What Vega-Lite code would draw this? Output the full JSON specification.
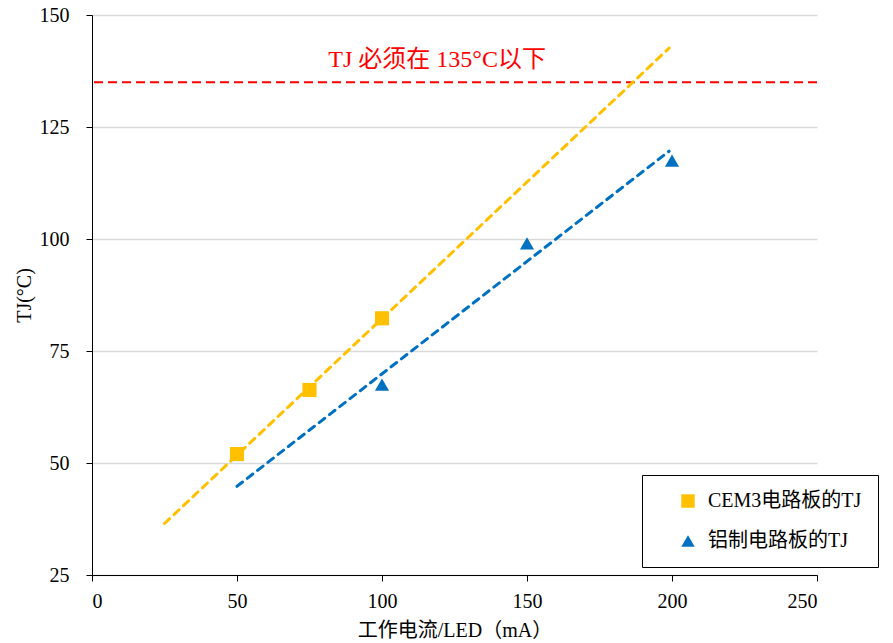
{
  "$schema": "https://vega.github.io/schema/vega-lite/v6.json",
  "autosize": {"type": "none"},
  "padding": {"left": 92, "top": 15, "right": 76, "bottom": 68},
  "width": 725,
  "height": 560,
  "background": "white",
  "config": {
    "view": {"stroke": null},
    "font": "Liberation Serif, Noto Sans CJK SC",
    "axis": {
      "labelFont": "Liberation Serif",
      "titleFont": "Liberation Serif, Noto Sans CJK SC",
      "labelFontSize": 20,
      "titleFontSize": 20,
      "titleFontWeight": "normal",
      "labelColor": "#000000",
      "titleColor": "#000000",
      "domainColor": "#000000",
      "tickColor": "#000000",
      "tickSize": 6,
      "gridColor": "#D9D9D9",
      "gridWidth": 1.5
    },
    "legend": {
      "labelFont": "Liberation Serif, Noto Sans CJK SC",
      "labelFontSize": 20,
      "labelColor": "#000000"
    }
  },
  "datasets": {
    "points": [
      {"series": "CEM3电路板的TJ", "current": 50, "tj": 52.0},
      {"series": "CEM3电路板的TJ", "current": 75, "tj": 66.3},
      {"series": "CEM3电路板的TJ", "current": 100, "tj": 82.3},
      {"series": "铝制电路板的TJ", "current": 100, "tj": 67.5},
      {"series": "铝制电路板的TJ", "current": 150, "tj": 99.0},
      {"series": "铝制电路板的TJ", "current": 200, "tj": 117.5}
    ],
    "trends": [
      {"series": "CEM3", "x1": 25, "y1": 36.5, "x2": 199, "y2": 142.6},
      {"series": "Al", "x1": 50, "y1": 44.8, "x2": 199, "y2": 119.6}
    ],
    "limit": [
      {"limit": 135, "label": "TJ 必须在 135°C以下", "lx": 119, "ly": 140}
    ]
  },
  "layer": [
    {
      "data": {"name": "limit"},
      "mark": {"type": "rule", "color": "#FF0000", "strokeWidth": 2, "strokeDash": [9, 5]},
      "encoding": {"y": {"field": "limit", "type": "quantitative", "scale": {"domain": [25, 150], "nice": false, "zero": false}}}
    },
    {
      "data": {"name": "trends"},
      "transform": [{"filter": "datum.series == 'CEM3'"}],
      "mark": {"type": "rule", "color": "#FFC000", "strokeWidth": 3, "strokeDash": [7, 6], "strokeCap": "round"},
      "encoding": {
        "x": {"field": "x1", "type": "quantitative", "scale": {"domain": [0, 250], "nice": false}},
        "y": {"field": "y1", "type": "quantitative", "scale": {"domain": [25, 150], "nice": false, "zero": false}},
        "x2": {"field": "x2"},
        "y2": {"field": "y2"}
      }
    },
    {
      "data": {"name": "trends"},
      "transform": [{"filter": "datum.series == 'Al'"}],
      "mark": {"type": "rule", "color": "#0070C0", "strokeWidth": 3, "strokeDash": [7, 6], "strokeCap": "round"},
      "encoding": {
        "x": {"field": "x1", "type": "quantitative", "scale": {"domain": [0, 250], "nice": false}},
        "y": {"field": "y1", "type": "quantitative", "scale": {"domain": [25, 150], "nice": false, "zero": false}},
        "x2": {"field": "x2"},
        "y2": {"field": "y2"}
      }
    },
    {
      "data": {"name": "points"},
      "mark": {"type": "point", "filled": true, "opacity": 1, "size": 200},
      "encoding": {
        "x": {
          "field": "current", "type": "quantitative",
          "scale": {"domain": [0, 250], "nice": false},
          "axis": {"values": [0, 50, 100, 150, 200, 250], "grid": false, "title": "工作电流/LED（mA）", "labelPadding": 10, "titlePadding": 9}
        },
        "y": {
          "field": "tj", "type": "quantitative",
          "scale": {"domain": [25, 150], "nice": false, "zero": false},
          "axis": {"values": [25, 50, 75, 100, 125, 150], "grid": true, "title": "TJ(°C)", "labelPadding": 17, "titlePadding": 5}
        },
        "color": {
          "field": "series", "type": "nominal",
          "scale": {"domain": ["CEM3电路板的TJ", "铝制电路板的TJ"], "range": ["#FFC000", "#0070C0"]},
          "legend": {
            "title": null,
            "orient": "none",
            "legendX": 550,
            "legendY": 460,
            "strokeColor": "#000000",
            "fillColor": "white",
            "padding": 16,
            "rowPadding": 20,
            "symbolSize": 180,
            "symbolOffset": 20,
            "labelOffset": 10,
            "offset": 0,
            "encode": {"legend": {"update": {"strokeWidth": {"value": 1.5}}}}
          }
        },
        "shape": {
          "field": "series", "type": "nominal",
          "scale": {"domain": ["CEM3电路板的TJ", "铝制电路板的TJ"], "range": ["square", "triangle-up"]}
        }
      }
    },
    {
      "data": {"name": "limit"},
      "mark": {"type": "text", "color": "#FF0000", "fontSize": 24, "font": "Liberation Serif, Noto Sans CJK SC"},
      "encoding": {
        "x": {"field": "lx", "type": "quantitative", "scale": {"domain": [0, 250], "nice": false}},
        "y": {"field": "ly", "type": "quantitative", "scale": {"domain": [25, 150], "nice": false, "zero": false}},
        "text": {"field": "label"}
      }
    }
  ]
}
